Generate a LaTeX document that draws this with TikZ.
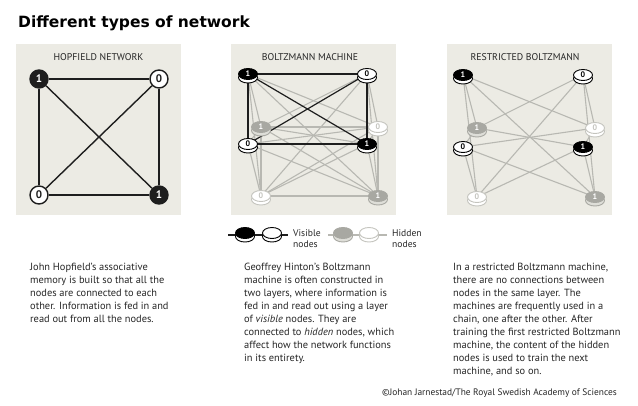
\documentclass[tikz,border=0pt]{standalone}
\usepackage{fontspec}
\setmainfont{PT Sans}
\newfontfamily\headfont{DejaVu Sans}
\usetikzlibrary{shapes.geometric,shadows}
\definecolor{panelbg}{RGB}{236,235,228}
\definecolor{ink}{RGB}{30,30,30}
\definecolor{textgray}{RGB}{38,38,38}
\definecolor{hidgray}{RGB}{168,168,162}
\definecolor{hidrim}{RGB}{222,222,216}
\definecolor{hidline}{RGB}{184,184,178}
\definecolor{hidlight}{RGB}{196,196,190}
\pgfdeclarelayer{panel}
\pgfdeclarelayer{edges}
\pgfsetlayers{panel,edges,main}
\begin{document}
\begin{tikzpicture}[x=1pt,y=-1pt,
  panelbox/.style={fill=panelbg, draw=none},
  paneltitle/.style={font=\fontsize{9.8}{9.8}\selectfont, text=textgray, inner sep=0pt, anchor=base},
  bodytext/.style={font=\fontsize{10.4}{13}\selectfont, text=textgray, align=left, inner sep=0pt, anchor=north west},
  legtext/.style={font=\fontsize{9.6}{11}\selectfont, text=textgray, align=left, inner sep=0pt, anchor=north west},
  hnode/.style={circle, minimum size=18pt, inner sep=0pt, line width=1.4pt, draw=ink, font=\bfseries\fontsize{11}{11}\selectfont},
  hnone/.style={hnode, fill=ink, text=white},
  hnzero/.style={hnode, fill=white, text=ink},
  coin/.style={ellipse, minimum width=19pt, minimum height=11pt, inner sep=0pt, line width=0.9pt, font=\bfseries\fontsize{8}{8}\selectfont},
  vone/.style={coin, fill=black, draw=black, text=white, general shadow={fill=white, draw=black, line width=0.9pt, shadow xshift=0pt, shadow yshift=-3.5pt}},
  vzero/.style={coin, fill=white, draw=black, text=black, general shadow={fill=white, draw=black, line width=0.9pt, shadow xshift=0pt, shadow yshift=-3.5pt}},
  hone/.style={coin, fill=hidgray, draw=hidgray, text=white, general shadow={fill=hidrim, draw=hidgray, line width=0.9pt, shadow xshift=0pt, shadow yshift=-3.5pt}},
  hzero/.style={coin, fill=white, draw=hidlight, text=hidlight, general shadow={fill=white, draw=hidlight, line width=0.9pt, shadow xshift=0pt, shadow yshift=-3.5pt}},
  darkedge/.style={draw=ink, line width=1.4pt},
  visedge/.style={draw=ink, line width=1.2pt},
  hidedge/.style={draw=hidline, line width=1.1pt},
]
\useasboundingbox (0,0) rectangle (638,405);
\begin{pgfonlayer}{panel}
  \fill[white] (0,0) rectangle (638,405);
  \path[panelbox] (16,44) rectangle (181,215);
  \path[panelbox] (231,44) rectangle (396,215);
  \path[panelbox] (447,44) rectangle (612,215);
\end{pgfonlayer}

% title
\node[font=\headfont\bfseries\fontsize{15.5}{15.5}\selectfont, text=black, inner sep=0pt, anchor=base west] (title) at (18,27) {Different types of network};

% panel titles
\node[paneltitle] (pt1) at (98.5,60) {HOPFIELD NETWORK};
\node[paneltitle] (pt2) at (310,60) {BOLTZMANN MACHINE};
\node[paneltitle] (pt3) at (525,60) {RESTRICTED BOLTZMANN};

% Hopfield network
\node[hnone]  (h1) at (39,79) {1};
\node[hnzero] (h2) at (159,79) {0};
\node[hnzero] (h3) at (39,195) {0};
\node[hnone]  (h4) at (159,195) {1};
\begin{pgfonlayer}{edges}
  \foreach \a/\b in {h1/h2,h1/h3,h1/h4,h2/h3,h2/h4,h3/h4}
    \draw[darkedge] (\a) -- (\b);
\end{pgfonlayer}

% Boltzmann machine
\node[hone]  (bh1) at (261,127) {1};
\node[hzero] (bh2) at (378,127) {0};
\node[hzero] (bh3) at (261,196) {0};
\node[hone]  (bh4) at (378,196) {1};
\node[vone]  (bv1) at (248,74) {1};
\node[vzero] (bv2) at (367,74) {0};
\node[vzero] (bv3) at (248,144) {0};
\node[vone]  (bv4) at (367,144) {1};
\begin{pgfonlayer}{edges}
  \foreach \a/\b in {bh1/bh2,bh1/bh3,bh1/bh4,bh2/bh3,bh2/bh4,bh3/bh4}
    \draw[hidedge] (\a.center) -- (\b.center);
  \foreach \a in {bv1,bv2,bv3,bv4}
    \foreach \b in {bh1,bh2,bh3,bh4}
      \draw[hidedge] (\a.center) -- (\b.center);
  \foreach \a/\b in {bv1/bv2,bv1/bv3,bv1/bv4,bv2/bv3,bv2/bv4,bv3/bv4}
    \draw[visedge] (\a.center) -- (\b.center);
\end{pgfonlayer}

% Restricted Boltzmann machine
\node[hone]  (rh1) at (477,128) {1};
\node[hzero] (rh2) at (595,128) {0};
\node[hzero] (rh3) at (477,197) {0};
\node[hone]  (rh4) at (595,197) {1};
\node[vone]  (rv1) at (463,75) {1};
\node[vzero] (rv2) at (583,75) {0};
\node[vzero] (rv3) at (463,147) {0};
\node[vone]  (rv4) at (583,147) {1};
\begin{pgfonlayer}{edges}
  \foreach \a in {rv1,rv2,rv3,rv4}
    \foreach \b in {rh1,rh2,rh3,rh4}
      \draw[hidedge] (\a.center) -- (\b.center);
\end{pgfonlayer}

% legend
\coordinate (lva) at (228,235);
\coordinate (lvb) at (288,235);
\coordinate (lha) at (328,235);
\coordinate (lhb) at (387,235);
\node[vone]  (lv1) at (245,233) {};
\node[vzero] (lv2) at (272,233) {};
\node[hone]  (lh1) at (343,233) {};
\node[hzero] (lh2) at (369,233) {};
\begin{pgfonlayer}{edges}
  \draw[draw=ink, line width=1.1pt] (lva) -- (lvb);
  \draw[hidedge] (lha) -- (lhb);
\end{pgfonlayer}
\node[legtext] (lvt) at (293,229) {Visible\\nodes};
\node[legtext] (lht) at (392,229) {Hidden\\nodes};

% texts
\node[bodytext] (t1) at (30,263) {John Hopfield’s associative\\memory is built so that all the\\nodes are connected to each\\other. Information is fed in and\\read out from all the nodes.};
\node[bodytext] (t2) at (244,263) {Geoffrey Hinton’s Boltzmann\\machine is often constructed in\\two layers, where information is\\fed in and read out using a layer\\of \textit{visible} nodes. They are\\connected to \textit{hidden} nodes, which\\affect how the network functions\\in its entirety.};
\node[bodytext] (t3) at (453,263) {In a restricted Boltzmann machine,\\there are no connections between\\nodes in the same layer. The\\machines are frequently used in a\\chain, one after the other. After\\training the first restricted Boltzmann\\machine, the content of the hidden\\nodes is used to train the next\\machine, and so on.};

\node[font=\fontsize{9.4}{9.4}\selectfont, text=textgray, inner sep=0pt, anchor=base east] (copy) at (617,395) {©Johan Jarnestad/The Royal Swedish Academy of Sciences};
\end{tikzpicture}
\end{document}
